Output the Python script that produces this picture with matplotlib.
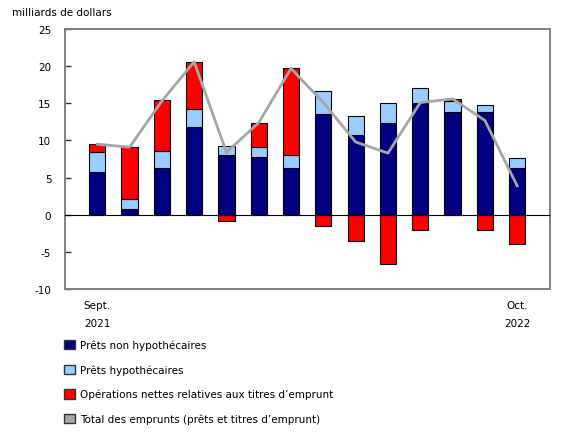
import matplotlib.pyplot as plt
import matplotlib.patches as mpatches
import numpy as np

months = ['Sept.\n2021', '', '', '', '', '', '', '', '', '', '', '', '', 'Oct.\n2022']
non_mortgage = [5.7, 0.8, 6.3, 11.8, 8.1, 7.8, 6.3, 13.6, 10.7, 12.4, 15.0, 13.9, 13.9, 6.3]
mortgage = [2.7, 1.3, 2.3, 2.4, 1.1, 1.3, 1.7, 3.0, 2.6, 2.6, 2.1, 1.4, 0.9, 1.4]
debt_securities = [1.1, 7.0, 6.8, 6.4, -0.8, 3.3, 11.7, -1.5, -3.5, -6.6, -2.0, 0.3, -2.1, -3.9]
total = [9.5, 9.1, 15.3, 20.6, 8.4, 12.4, 19.7, 15.1, 9.8, 8.3, 15.1, 15.6, 12.7, 3.9]

navy = '#000080'
light_blue = '#99ccff'
red = '#ff0000'
grey = '#a6a6a6'

plt.rcParams['font.family'] = 'DejaVu Sans'
plt.rcParams['axes.unicode_minus'] = False
fig = plt.figure(figsize=(5.8, 4.35), dpi=100)
ax = fig.add_axes([0.1125, 0.333, 0.836, 0.598])

x = np.arange(len(months))
nm = np.array(non_mortgage)
mo = np.array(mortgage)
ds = np.array(debt_securities)

w = 0.5
ax.bar(x, nm, w, color=navy, edgecolor='black', linewidth=0.8, zorder=2)
ax.bar(x, mo, w, bottom=nm, color=light_blue, edgecolor='black', linewidth=0.8, zorder=2)
ds_bottom = np.where(ds >= 0, nm + mo, 0)
ax.bar(x, ds, w, bottom=ds_bottom, color=red, edgecolor='black', linewidth=0.8, zorder=2)
ax.axhline(0, color='black', linewidth=0.8, zorder=3)
ax.plot(x, total, color=grey, linewidth=2, zorder=4)

ax.set_xlim(-0.99, 14.02)
ax.set_ylim(-10, 25)
ax.set_yticks(range(-10, 30, 5))
ax.set_xticks(x)
ax.set_xticklabels(months, fontsize=7.5, linespacing=2.0)
ax.tick_params(axis='x', length=0, pad=8)
ax.tick_params(axis='y', labelsize=7.5, direction='in', length=4, width=1,
               color='#333333', pad=10)
for s in ax.spines.values():
    s.set_color('#808080')
    s.set_linewidth(1.4)

fig.text(0.02, 0.982, 'milliards de dollars', fontsize=7.5, va='top')

handles = [
    mpatches.Patch(facecolor=navy, edgecolor='#333333', label='Prêts non hypothécaires'),
    mpatches.Patch(facecolor=light_blue, edgecolor='#333333', label='Prêts hypothécaires'),
    mpatches.Patch(facecolor=red, edgecolor='#333333', label='Opérations nettes relatives aux titres d’emprunt'),
    mpatches.Patch(facecolor=grey, edgecolor='#333333', label='Total des emprunts (prêts et titres d’emprunt)'),
]
fig.legend(handles=handles, loc='upper left', bbox_to_anchor=(0.104, 0.226), frameon=False,
           fontsize=7.5, handlelength=1.0, handleheight=1.0, handletextpad=0.5,
           labelspacing=1.35, borderaxespad=0)

fig.savefig('out.png', dpi=100)
